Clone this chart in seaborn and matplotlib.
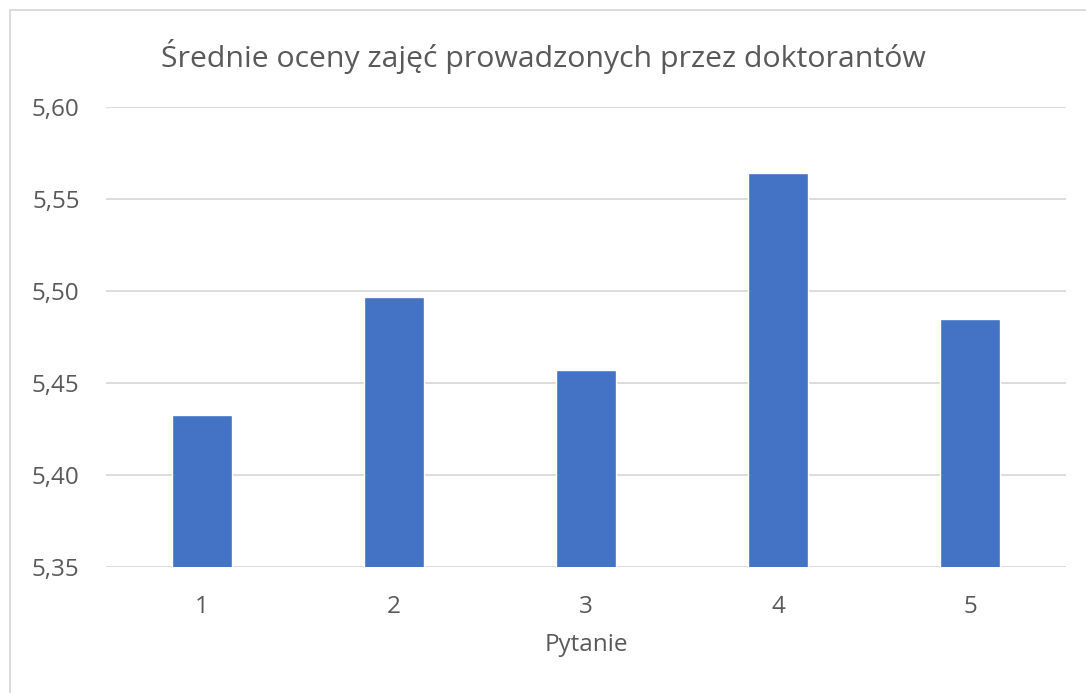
import matplotlib
matplotlib.use("Agg")
import matplotlib.pyplot as plt
import matplotlib.ticker as mticker
from matplotlib.lines import Line2D
import seaborn as sns
import pandas as pd

categories = ["1", "2", "3", "4", "5"]
values = [5.4328, 5.4967, 5.4573, 5.5642, 5.4846]
title = "Średnie oceny zajęć prowadzonych przez doktorantów"
xlabel = "Pytanie"
yticks = [5.35, 5.40, 5.45, 5.50, 5.55, 5.60]

sns.set_theme(style="white")
plt.rcParams['font.family'] = ['Open Sans', 'DejaVu Sans']

df = pd.DataFrame({"Pytanie": categories, "Ocena": values})

fig = plt.figure(figsize=(10.86, 6.93), dpi=100)
ax = fig.add_axes([106/1086, 1 - 567/693, 960/1086, 460/693])

sns.barplot(data=df, x="Pytanie", y="Ocena", color="#4472C4", width=0.3125,
            ax=ax, saturation=1, zorder=3)

ax.set_ylim(5.35, 5.60)
ax.set_xlim(-0.5, 4.5)
ax.set_yticks(yticks)
ax.yaxis.set_major_formatter(mticker.FuncFormatter(lambda v, p: f"{v:.2f}".replace(".", ",")))
ax.grid(axis="y", color="#D9D9D9", linewidth=1.3, zorder=0)
ax.grid(axis="x", visible=False)
for s in ax.spines.values():
    s.set_visible(False)
ax.tick_params(axis="both", length=0, labelsize=17.5, colors="#595959")
ax.tick_params(axis="y", pad=19)
ax.tick_params(axis="x", pad=20)
ax.set_xlabel(xlabel, fontsize=17.5, color="#595959", labelpad=10)
ax.set_ylabel("")
fig.text(0.5, 1 - 57/693, title, ha="center", va="center", fontsize=21.8, color="#595959")

fig.add_artist(Line2D([10/1086, 10/1086], [0, 1 - 10/693], transform=fig.transFigure, color="#D9D9D9", linewidth=1.3))
fig.add_artist(Line2D([10/1086, 1], [1 - 10/693, 1 - 10/693], transform=fig.transFigure, color="#D9D9D9", linewidth=1.3))

fig.savefig("out.png", dpi=100, facecolor="white")
